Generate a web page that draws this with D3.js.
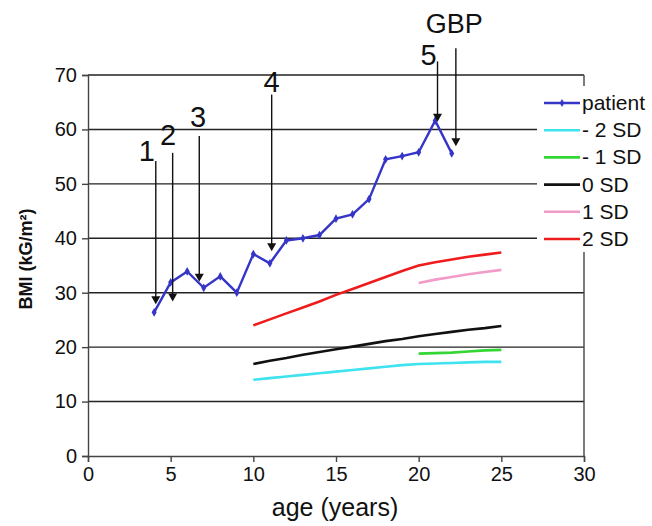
<!DOCTYPE html>
<html><head><meta charset="utf-8">
<script src="https://cdn.jsdelivr.net/npm/d3@7"></script>
<style>body{margin:0;background:#fff}svg{display:block}text{font-family:"Liberation Sans",Arial,sans-serif}</style>
</head><body>
<svg id="c" width="652" height="526"></svg>
<script>
const patientAge = [4,5,6,7,8,9,10,11,12,13,14,15,16,17,18,19,20,21,22];
const patientBMI = [26.4,31.9,33.9,30.9,33.0,30.0,37.1,35.4,39.6,40.0,40.6,43.6,44.4,47.2,54.5,55.1,55.8,61.6,55.6];
const refAgeFull = [10,11,12,13,14,15,16,17,18,19,20,21,22,23,24,25];
const refAgeAdult = [20,21,22,23,24,25];
const sdMinus2 = [14.0,14.3,14.6,14.9,15.2,15.5,15.8,16.1,16.4,16.7,16.9,17.0,17.1,17.2,17.3,17.3];
const sdMinus1 = [18.8,18.9,19.0,19.2,19.4,19.5];
const sd0 = [16.9,17.5,18.0,18.6,19.1,19.6,20.1,20.6,21.1,21.5,22.0,22.4,22.8,23.2,23.5,23.9];
const sdPlus1 = [31.8,32.4,32.9,33.4,33.8,34.2];
const sdPlus2 = [24.0,25.1,26.2,27.3,28.4,29.6,30.7,31.8,32.9,34.0,35.0,35.6,36.1,36.6,37.0,37.4];
const xTicks = [0,5,10,15,20,25,30];
const yTicks = [0,10,20,30,40,50,60,70];
const arrowLabels = ["1","2","3","4","5","GBP"];
const arrowAge = [4.1,5.12,6.73,11.11,21.14,22.25];
const arrowFrom = [54.2,55.7,58.8,66.4,72.5,74.9];
const arrowTo = [27.9,28.4,32.0,37.6,61.4,56.9];
const legendNames = ["patient","- 2 SD","- 1 SD","0 SD","1 SD","2 SD"];

const colors = {patient:"#3535c8", m2:"#3fe3ef", m1:"#33d633", z:"#111111", p1:"#f29ac8", p2:"#ee1c1c"};
const svg = d3.select("#c");
const x = d3.scaleLinear().domain([0,30]).range([88,584]);
const y = d3.scaleLinear().domain([0,70]).range([456,75]);

// gridlines
svg.append("g").selectAll("line").data(yTicks.filter(d=>d>0)).join("line")
  .attr("x1",x(0)).attr("x2",x(30)).attr("y1",d=>y(d)).attr("y2",d=>y(d))
  .attr("stroke","#222").attr("stroke-width",1.4);
// right border
svg.append("line").attr("x1",x(30)).attr("x2",x(30)).attr("y1",y(70)).attr("y2",y(0))
  .attr("stroke","#444").attr("stroke-width",1.4);

// axes
const xa = svg.append("g").attr("transform",`translate(0,${y(0)})`)
  .call(d3.axisBottom(x).tickValues(xTicks).tickSize(6).tickPadding(5).tickFormat(d3.format("d")));
const ya = svg.append("g").attr("transform",`translate(${x(0)},0)`)
  .call(d3.axisLeft(y).tickValues(yTicks).tickSize(6).tickPadding(5).tickFormat(d3.format("d")));
[xa,ya].forEach(a=>{
  a.select(".domain").attr("stroke","#444").attr("stroke-width",1.4);
  a.selectAll(".tick line").attr("stroke","#444").attr("stroke-width",1.4);
  a.selectAll("text").attr("font-size",20).attr("fill","#111").attr("font-family","Liberation Sans, Arial, sans-serif");
});

// reference lines
const line = d3.line().x(d=>x(d[0])).y(d=>y(d[1]));
function drawRef(ages, vals, col){
  svg.append("path").datum(ages.map((a,i)=>[a,vals[i]])).attr("d",line)
    .attr("fill","none").attr("stroke",col).attr("stroke-width",2.6);
}
drawRef(refAgeFull, sdMinus2, colors.m2);
drawRef(refAgeAdult, sdMinus1, colors.m1);
drawRef(refAgeFull, sd0, colors.z);
drawRef(refAgeAdult, sdPlus1, colors.p1);
drawRef(refAgeFull, sdPlus2, colors.p2);

// patient
const pdata = patientAge.map((a,i)=>[a,patientBMI[i]]);
svg.append("path").datum(pdata).attr("d",line).attr("fill","none")
  .attr("stroke",colors.patient).attr("stroke-width",2.4);
svg.append("g").selectAll("path").data(pdata).join("path")
  .attr("d",d3.symbol(d3.symbolDiamond,22)).attr("transform",d=>`translate(${x(d[0])},${y(d[1])})`)
  .attr("fill",colors.patient);

// arrows
const labelOff = [[-9,0],[-4.5,-7.5],[-1.3,-9],[0,-3],[-9,3.3],[-1.7,-15]];
arrowLabels.forEach((lab,i)=>{
  const ax = x(arrowAge[i]), y1 = y(arrowFrom[i]), y2 = y(arrowTo[i]);
  svg.append("line").attr("x1",ax).attr("x2",ax).attr("y1",y1).attr("y2",y2-7)
    .attr("stroke","#111").attr("stroke-width",1.4);
  svg.append("path").attr("d",`M${ax-4.5},${y2-8}L${ax+4.5},${y2-8}L${ax},${y2}Z`).attr("fill","#111");
  svg.append("text").attr("x",ax+labelOff[i][0]).attr("y",y1+labelOff[i][1])
    .attr("text-anchor","middle").attr("font-size",lab.length>1?27:29).attr("fill","#111").text(lab);
});

// legend
const legendColors = [colors.patient,colors.m2,colors.m1,colors.z,colors.p1,colors.p2];
const lg = svg.append("g");
lg.append("rect").attr("x",537).attr("y",86).attr("width",115).attr("height",166).attr("fill","#fff");
legendNames.forEach((n,i)=>{
  const ly = 103 + i*27.2;
  lg.append("line").attr("x1",544).attr("x2",580).attr("y1",ly).attr("y2",ly)
    .attr("stroke",legendColors[i]).attr("stroke-width",2.6);
  if(i===0) lg.append("path").attr("d",d3.symbol(d3.symbolDiamond,18)).attr("transform",`translate(562,${ly})`).attr("fill",legendColors[i]);
  lg.append("text").attr("x",582).attr("y",ly+7).attr("font-size",21).attr("fill","#111").text(n);
});

// axis titles
svg.append("text").attr("x",335).attr("y",516).attr("text-anchor","middle")
  .attr("font-size",25).attr("fill","#111").text("age (years)");
svg.append("text").attr("transform","translate(32,259) rotate(-90)").attr("text-anchor","middle")
  .attr("font-size",18).attr("font-weight","bold").attr("fill","#111").text("BMI (kG/m²)");
</script>
</body></html>
